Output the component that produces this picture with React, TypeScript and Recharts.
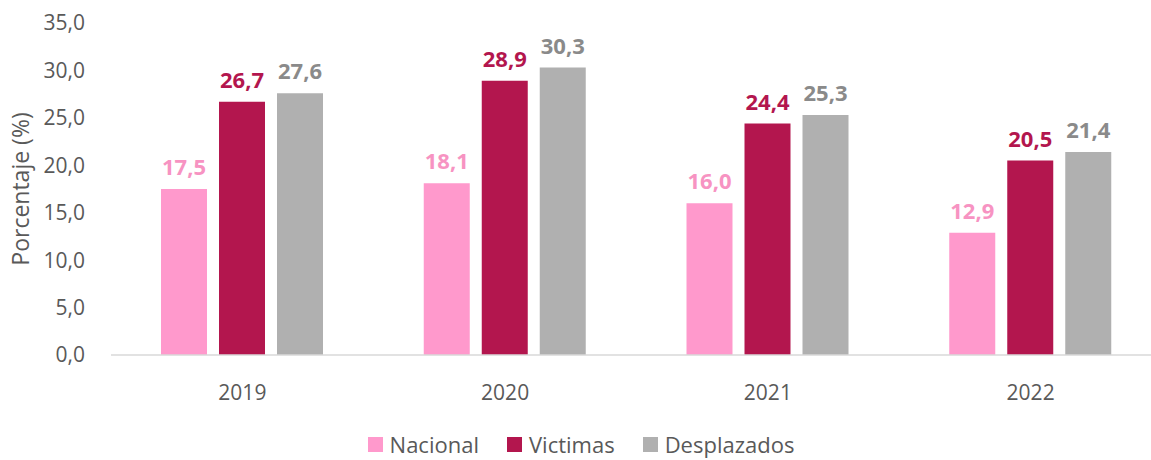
import { BarChart, Bar, XAxis, YAxis, Legend, LabelList } from 'recharts'

// ── Data ───────────────────────────────────────────────────
const years = ['2019', '2020', '2021', '2022']
const nacional = [17.5, 18.1, 16.0, 12.9]
const victimas = [26.7, 28.9, 24.4, 20.5]
const desplazados = [27.6, 30.3, 25.3, 21.4]
const yTicks = [0, 5, 10, 15, 20, 25, 30, 35]

const series = [
  { key: 'nacional', name: 'Nacional', fill: '#FF99CC', label: '#F793C2' },
  { key: 'victimas', name: 'Victimas', fill: '#B3164E', label: '#B3164E' },
  { key: 'desplazados', name: 'Desplazados', fill: '#B0B0B0', label: '#8A8A8A' },
]

const data = years.map((year, i) => ({
  year,
  nacional: nacional[i],
  victimas: victimas[i],
  desplazados: desplazados[i],
}))

const FONT = '"Open Sans", "Noto Sans", sans-serif'
const fmt = (v: number) => v.toFixed(1).replace('.', ',')

// ── Legend ─────────────────────────────────────────────────
function ChartLegend() {
  return (
    <div
      style={{
        display: 'flex',
        justifyContent: 'center',
        gap: 28,
        paddingTop: 22,
        fontFamily: FONT,
        fontSize: 22,
        lineHeight: '24px',
        color: '#595959',
      }}
    >
      {series.map((s) => (
        <span key={s.key} style={{ display: 'flex', alignItems: 'center' }}>
          <span style={{ width: 15, height: 15, background: s.fill, marginRight: 7, display: 'inline-block' }} />
          {s.name}
        </span>
      ))}
    </div>
  )
}

// ── Component ──────────────────────────────────────────────
export default function App() {
  return (
    <div style={{ position: 'absolute', left: 0, top: 0, width: 1151, height: 460, overflow: 'hidden', background: '#fff' }}>
      <BarChart
        width={1162}
        height={460}
        data={data}
        margin={{ top: 23, right: 0, bottom: 0, left: 0 }}
        barSize={46}
        barGap={12}
      >
        <XAxis
          dataKey="year"
          axisLine={{ stroke: '#D9D9D9', strokeWidth: 1.5 }}
          tickLine={false}
          height={55}
          tickMargin={24}
          tick={{ fontFamily: FONT, fontSize: 21, fill: '#595959' }}
        />
        <YAxis
          width={111}
          domain={[0, 35]}
          ticks={yTicks}
          interval={0}
          axisLine={false}
          tickLine={false}
          tickMargin={20}
          tickFormatter={fmt}
          tick={{ fontFamily: FONT, fontSize: 21, fill: '#595959' }}
          label={{
            content: ({ viewBox }: any) => (
              <text
                x={20}
                y={viewBox.y + viewBox.height / 2}
                transform={`rotate(-90, 20, ${viewBox.y + viewBox.height / 2})`}
                textAnchor="middle"
                dominantBaseline="central"
                fontFamily={FONT}
                fontSize={23}
                fill="#595959"
              >
                Porcentaje (%)
              </text>
            ),
          }}
        />
        <Legend verticalAlign="bottom" height={50} content={<ChartLegend />} />
        {series.map((s) => (
          <Bar key={s.key} dataKey={s.key} name={s.name} fill={s.fill} isAnimationActive={false}>
            <LabelList
              dataKey={s.key}
              position="top"
              offset={14}
              formatter={(v: any) => fmt(Number(v))}
              style={{ fontFamily: FONT, fontSize: 22, fontWeight: 700, fill: s.label }}
            />
          </Bar>
        ))}
      </BarChart>
    </div>
  )
}
